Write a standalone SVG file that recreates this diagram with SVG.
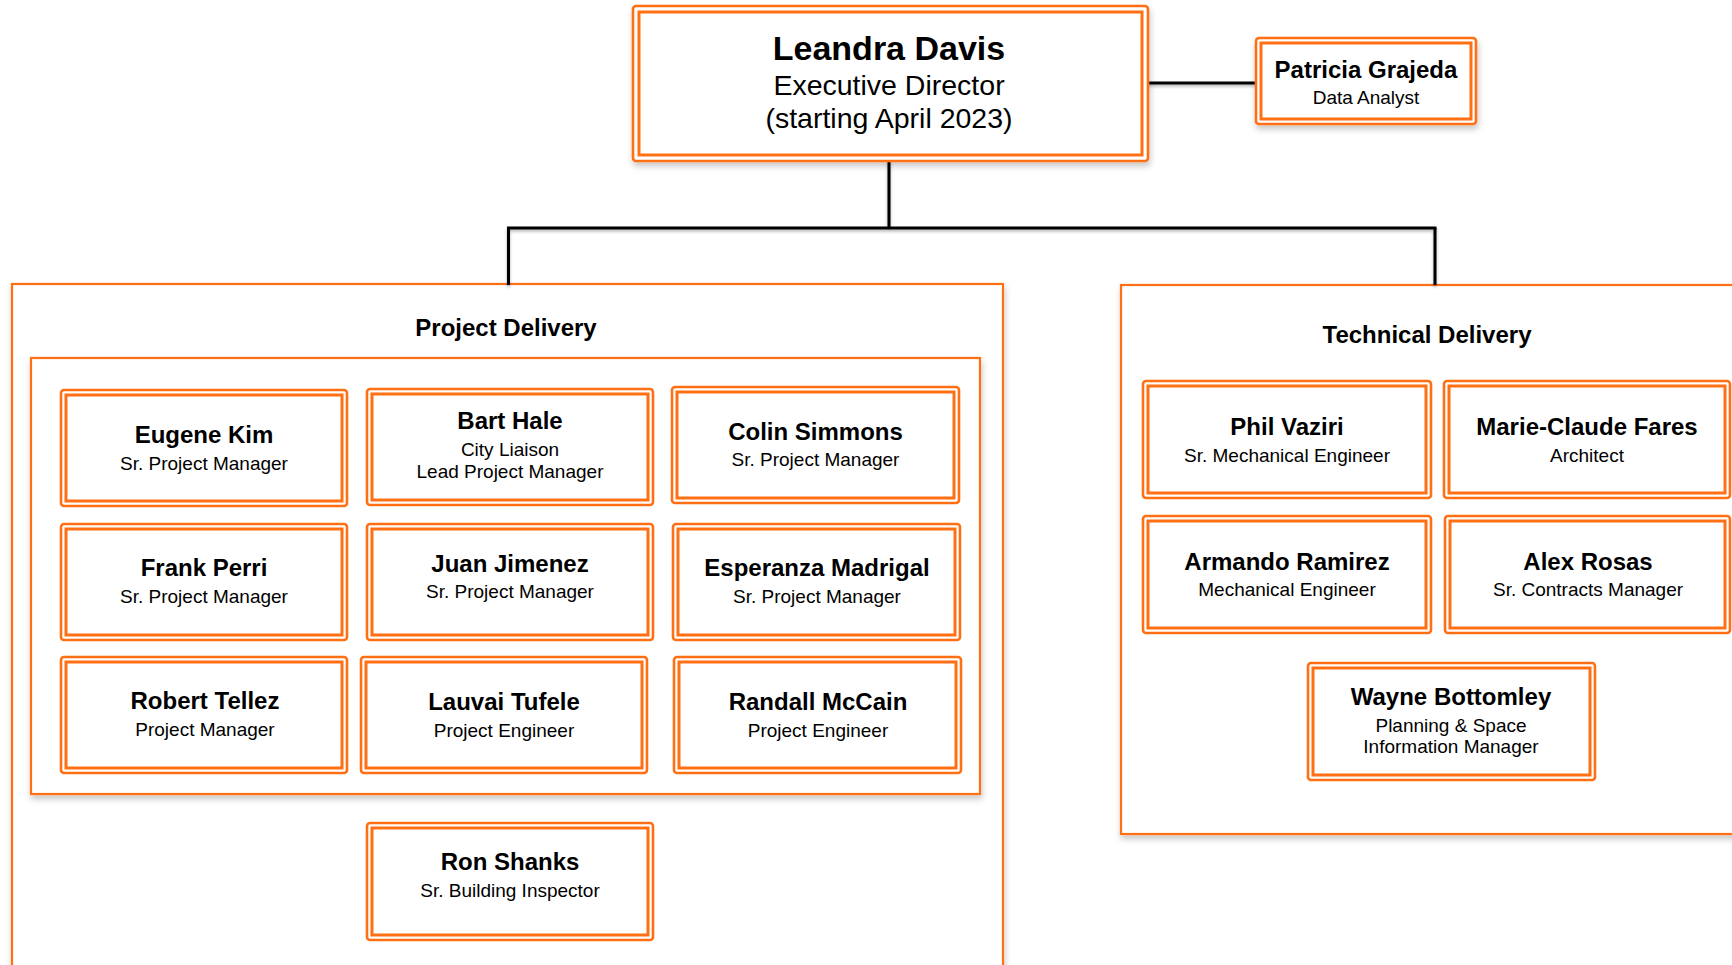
<svg xmlns="http://www.w3.org/2000/svg" width="1732" height="965" viewBox="0 0 1732 965">
<style>
.grp{fill:#fff;stroke:#FF6F14;stroke-width:2.2}
.bo{fill:#fff;stroke:#FF6F14;stroke-width:2.6}
.bi{fill:none;stroke:#FF6F14;stroke-width:3}
.nm{font-family:"Liberation Sans",Arial,Helvetica,sans-serif;font-weight:bold;font-size:24px;fill:#000;text-anchor:middle}
.tt{font-family:"Liberation Sans",Arial,Helvetica,sans-serif;font-size:19px;fill:#000;text-anchor:middle}
.hd{font-family:"Liberation Sans",Arial,Helvetica,sans-serif;font-weight:bold;font-size:24px;fill:#000;text-anchor:middle}
.ln{stroke:#000;stroke-width:3;fill:none}
</style>
<defs>
<filter id="sh" x="-5%" y="-5%" width="115%" height="120%">
<feDropShadow dx="1" dy="4" stdDeviation="3" flood-color="#000" flood-opacity="0.22"/>
</filter>
<filter id="shl" x="-5%" y="-50%" width="110%" height="300%">
<feDropShadow dx="0" dy="2" stdDeviation="1.5" flood-color="#000" flood-opacity="0.3"/>
</filter>
</defs>
<rect width="1732" height="965" fill="#fff"/>

<g id="group-project-delivery">
<rect class="grp" x="12" y="284" width="991" height="720" filter="url(#sh)"/>
<text class="hd" x="506" y="336">Project Delivery</text>
<rect class="grp" x="31" y="358" width="949" height="436" filter="url(#sh)"/>
</g>
<g id="group-technical-delivery">
<rect class="grp" x="1121" y="285" width="700" height="549" filter="url(#sh)"/>
<text class="hd" x="1427" y="343">Technical Delivery</text>
</g>

<g id="connectors" filter="url(#shl)">
<line class="ln" x1="1146" y1="83" x2="1257" y2="83"/>
<line class="ln" x1="889" y1="160" x2="889" y2="228"/>
<line class="ln" x1="507" y1="228" x2="1436.5" y2="228"/>
<line class="ln" x1="508.5" y1="228" x2="508.5" y2="285"/>
<line class="ln" x1="1435" y1="228" x2="1435" y2="285"/>
</g>

<g id="leandra-davis">
<rect class="bo" x="633" y="6" width="515" height="155" rx="3" filter="url(#sh)"/>
<rect class="bi" x="639" y="12" width="503" height="143"/>
<text class="nm" x="889" y="60" style="font-size:34px">Leandra Davis</text>
<text class="tt" x="889" y="95" style="font-size:28.5px">Executive Director</text>
<text class="tt" x="889" y="128" style="font-size:28.5px">(starting April 2023)</text>
</g>

<g id="patricia-grajeda">
<rect class="bo" x="1256" y="38" width="220" height="86" rx="3" filter="url(#sh)"/>
<rect class="bi" x="1261" y="43" width="210" height="76"/>
<text class="nm" x="1366" y="78">Patricia Grajeda</text>
<text class="tt" x="1366" y="104">Data Analyst</text>
</g>

<g id="eugene-kim">
<rect class="bo" x="61" y="390" width="286" height="116" rx="3"/>
<rect class="bi" x="66" y="395" width="276" height="106"/>
<text class="nm" x="204" y="443">Eugene Kim</text>
<text class="tt" x="204" y="470">Sr. Project Manager</text>
</g>

<g id="bart-hale">
<rect class="bo" x="367" y="389" width="286" height="116" rx="3"/>
<rect class="bi" x="372" y="394" width="276" height="106"/>
<text class="nm" x="510" y="429">Bart Hale</text>
<text class="tt" x="510" y="456">City Liaison</text>
<text class="tt" x="510" y="478">Lead Project Manager</text>
</g>

<g id="colin-simmons">
<rect class="bo" x="672" y="387" width="287" height="116" rx="3"/>
<rect class="bi" x="677" y="392" width="277" height="106"/>
<text class="nm" x="815.5" y="440">Colin Simmons</text>
<text class="tt" x="815.5" y="466">Sr. Project Manager</text>
</g>

<g id="frank-perri">
<rect class="bo" x="61" y="524" width="286" height="116" rx="3"/>
<rect class="bi" x="66" y="529" width="276" height="106"/>
<text class="nm" x="204" y="576">Frank Perri</text>
<text class="tt" x="204" y="603">Sr. Project Manager</text>
</g>

<g id="juan-jimenez">
<rect class="bo" x="367" y="524" width="286" height="116" rx="3"/>
<rect class="bi" x="372" y="529" width="276" height="106"/>
<text class="nm" x="510" y="572">Juan Jimenez</text>
<text class="tt" x="510" y="598">Sr. Project Manager</text>
</g>

<g id="esperanza-madrigal">
<rect class="bo" x="673" y="524" width="287" height="116" rx="3"/>
<rect class="bi" x="678" y="529" width="277" height="106"/>
<text class="nm" x="817" y="576">Esperanza Madrigal</text>
<text class="tt" x="817" y="603">Sr. Project Manager</text>
</g>

<g id="robert-tellez">
<rect class="bo" x="61" y="657" width="286" height="116" rx="3"/>
<rect class="bi" x="66" y="662" width="276" height="106"/>
<text class="nm" x="205" y="709">Robert Tellez</text>
<text class="tt" x="205" y="736">Project Manager</text>
</g>

<g id="lauvai-tufele">
<rect class="bo" x="361" y="657" width="286" height="116" rx="3"/>
<rect class="bi" x="366" y="662" width="276" height="106"/>
<text class="nm" x="504" y="710">Lauvai Tufele</text>
<text class="tt" x="504" y="737">Project Engineer</text>
</g>

<g id="randall-mccain">
<rect class="bo" x="674" y="657" width="287" height="116" rx="3"/>
<rect class="bi" x="679" y="662" width="277" height="106"/>
<text class="nm" x="818" y="710">Randall McCain</text>
<text class="tt" x="818" y="737">Project Engineer</text>
</g>

<g id="ron-shanks">
<rect class="bo" x="367" y="823" width="286" height="117" rx="3"/>
<rect class="bi" x="372" y="828" width="276" height="107"/>
<text class="nm" x="510" y="870">Ron Shanks</text>
<text class="tt" x="510" y="897">Sr. Building Inspector</text>
</g>

<g id="phil-vaziri">
<rect class="bo" x="1143" y="381" width="288" height="117" rx="3"/>
<rect class="bi" x="1148" y="386" width="278" height="107"/>
<text class="nm" x="1287" y="435">Phil Vaziri</text>
<text class="tt" x="1287" y="462">Sr. Mechanical Engineer</text>
</g>

<g id="marie-claude-fares">
<rect class="bo" x="1444" y="381" width="286" height="117" rx="3"/>
<rect class="bi" x="1449" y="386" width="276" height="107"/>
<text class="nm" x="1587" y="435">Marie-Claude Fares</text>
<text class="tt" x="1587" y="462">Architect</text>
</g>

<g id="armando-ramirez">
<rect class="bo" x="1143" y="516" width="288" height="117" rx="3"/>
<rect class="bi" x="1148" y="521" width="278" height="107"/>
<text class="nm" x="1287" y="570">Armando Ramirez</text>
<text class="tt" x="1287" y="596">Mechanical Engineer</text>
</g>

<g id="alex-rosas">
<rect class="bo" x="1445" y="516" width="285" height="117" rx="3"/>
<rect class="bi" x="1450" y="521" width="275" height="107"/>
<text class="nm" x="1588" y="570">Alex Rosas</text>
<text class="tt" x="1588" y="596">Sr. Contracts Manager</text>
</g>

<g id="wayne-bottomley">
<rect class="bo" x="1308" y="663" width="287" height="117" rx="3"/>
<rect class="bi" x="1313" y="668" width="277" height="107"/>
<text class="nm" x="1451" y="705">Wayne Bottomley</text>
<text class="tt" x="1451" y="732">Planning &amp; Space</text>
<text class="tt" x="1451" y="753">Information Manager</text>
</g>
</svg>
